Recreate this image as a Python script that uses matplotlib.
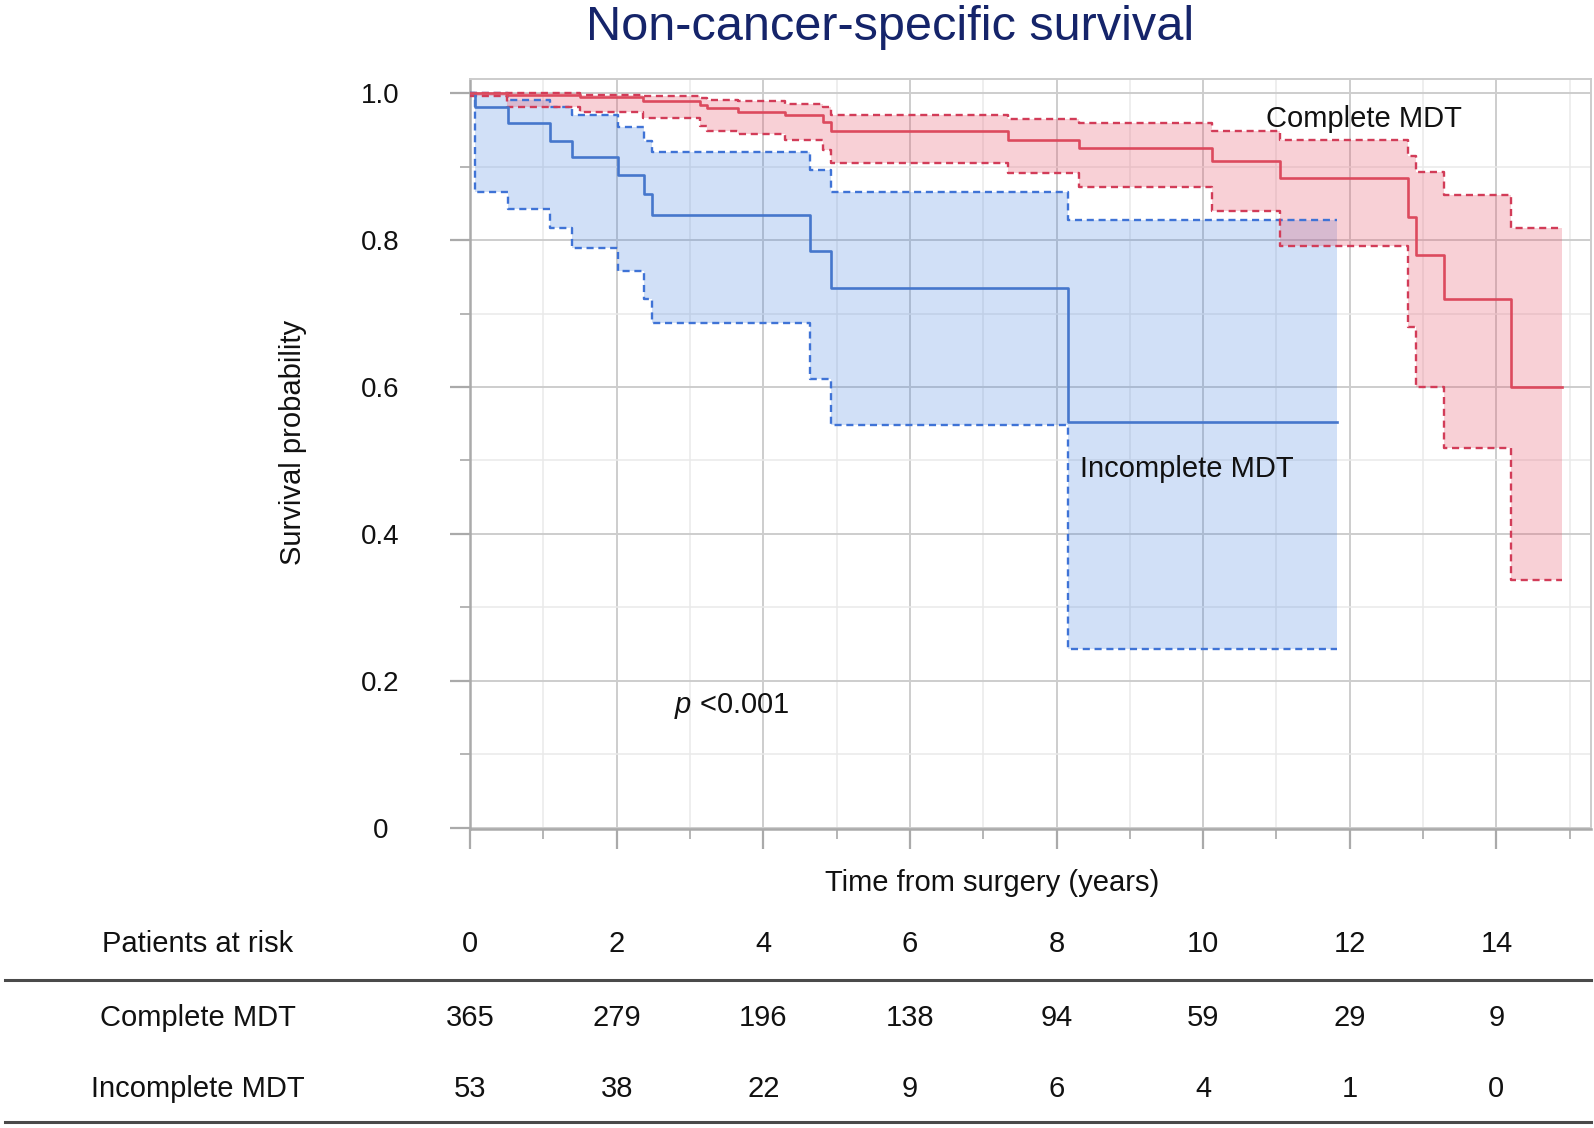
import matplotlib
matplotlib.use("Agg")
import matplotlib.pyplot as plt
from matplotlib.ticker import MultipleLocator, FixedLocator, FixedFormatter
from matplotlib.lines import Line2D
import matplotlib.transforms as mtransforms

plt.rcParams['font.family'] = ['Liberation Sans', 'DejaVu Sans']
plt.rcParams['mathtext.fontset'] = 'custom'
plt.rcParams['mathtext.rm'] = 'Liberation Sans'
plt.rcParams['mathtext.it'] = 'Liberation Sans:italic'

# ---------------- data ----------------
# Incomplete MDT (blue)
inc_time = [0, 0.07, 0.52, 1.09, 1.39, 2.02, 2.37, 2.48, 4.64, 4.93, 8.16, 11.82]
inc_surv = [1.0, 0.981, 0.959, 0.935, 0.913, 0.889, 0.863, 0.834, 0.785, 0.735, 0.553, 0.553]
inc_upper = [1.0, 1.0, 0.991, 0.981, 0.970, 0.954, 0.935, 0.920, 0.895, 0.866, 0.828, 0.828]
inc_lower = [1.0, 0.866, 0.843, 0.816, 0.790, 0.758, 0.720, 0.687, 0.611, 0.548, 0.243, 0.243]

# Complete MDT (red)
com_time = [0, 0.5, 1.5, 2.36, 3.14, 3.23, 3.66, 4.30, 4.82, 4.93, 7.34, 8.30,
            10.12, 11.05, 12.80, 12.90, 13.28, 14.20, 14.90]
com_surv = [1.0, 0.998, 0.995, 0.989, 0.984, 0.980, 0.975, 0.970, 0.961, 0.948, 0.936, 0.926,
            0.908, 0.884, 0.832, 0.780, 0.720, 0.600, 0.600]
com_upper = [1.0, 1.0, 0.998, 0.997, 0.994, 0.991, 0.989, 0.986, 0.982, 0.971, 0.965, 0.959,
             0.949, 0.937, 0.915, 0.893, 0.861, 0.816, 0.816]
com_lower = [0.996, 0.982, 0.975, 0.966, 0.955, 0.948, 0.945, 0.936, 0.923, 0.905, 0.891, 0.872,
             0.840, 0.792, 0.682, 0.600, 0.517, 0.337, 0.337]

risk_times = [0, 2, 4, 6, 8, 10, 12, 14]
risk_complete = [365, 279, 196, 138, 94, 59, 29, 9]
risk_incomplete = [53, 38, 22, 9, 6, 4, 1, 0]
ytick_vals = [0, 0.2, 0.4, 0.6, 0.8, 1.0]
ytick_labels = ["0", "0.2", "0.4", "0.6", "0.8", "1.0"]

# ---------------- figure ----------------
W, H = 1594, 1128
fig = plt.figure(figsize=(W / 100, H / 100), dpi=100)
ax = fig.add_axes([470 / W, 1 - 829 / H, (1591 - 470) / W, (829 - 79) / H])

red_line = '#dc4a5e'
red_fill = '#e8596e'
blue_line = '#4677cc'
blue_fill = '#4a86e0'
txt = '#111111'

ax.fill_between(inc_time, inc_lower, inc_upper, step='post', color=blue_fill, alpha=0.25, lw=0, zorder=2)
ax.fill_between(com_time, com_lower, com_upper, step='post', color=red_fill, alpha=0.28, lw=0, zorder=3)

dash = (0, (3.0, 2.0))
ax.step(inc_time, inc_upper, where='post', color='#3f73d6', lw=1.7, ls=dash, zorder=4)
ax.step(inc_time, inc_lower, where='post', color='#3f73d6', lw=1.7, ls=dash, zorder=4)
ax.step(com_time, com_upper, where='post', color='#d23c58', lw=1.7, ls=dash, zorder=5)
ax.step(com_time, com_lower, where='post', color='#d23c58', lw=1.7, ls=dash, zorder=5)
ax.step(inc_time, inc_surv, where='post', color=blue_line, lw=1.9, zorder=6)
ax.step(com_time, com_surv, where='post', color=red_line, lw=1.9, zorder=7)

ax.set_xlim(0, 15.29)
ax.set_ylim(-0.002, 1.0195)

ax.xaxis.set_major_locator(MultipleLocator(2))
ax.xaxis.set_minor_locator(MultipleLocator(1))
ax.yaxis.set_major_locator(FixedLocator(ytick_vals))
ax.yaxis.set_major_formatter(FixedFormatter(ytick_labels))
ax.yaxis.set_minor_locator(MultipleLocator(0.1))

ax.set_axisbelow(True)
ax.grid(which='major', color='#cdcdcd', lw=1.4, zorder=0)
ax.grid(which='minor', color='#e9e9e9', lw=1.1, zorder=0)

ax.tick_params(axis='both', which='major', length=14.5, width=1.6, color='#aaaaaa', direction='out')
ax.tick_params(axis='both', which='minor', length=7, width=1.4, color='#b5b5b5', direction='out')
ax.tick_params(axis='x', labelbottom=False)
ax.tick_params(axis='y', which='major', labelsize=20, labelcolor=txt, pad=50)
for lbl in ax.get_yticklabels():
    lbl.set_horizontalalignment('center')

for side in ['top', 'right']:
    ax.spines[side].set_color('#cccccc')
    ax.spines[side].set_linewidth(1.4)
for side in ['left', 'bottom']:
    ax.spines[side].set_color('#aaaaaa')
    ax.spines[side].set_linewidth(1.8)

# annotations inside plot
ax.text(10.86, 0.965, "Complete MDT", fontsize=21, color=txt, ha='left', va='center', zorder=8)
ax.text(8.32, 0.488, "Incomplete MDT", fontsize=21, color=txt, ha='left', va='center', zorder=8)
ax.text(2.78, 0.166, r"$p$ <0.001", fontsize=21, color=txt, ha='left', va='center', zorder=8)

# titles & axis labels
fig.text(890 / W, 1 - 28 / H, "Non-cancer-specific survival", fontsize=35, color='#15246a',
         ha='center', va='center')
fig.text(992 / W, 1 - 883 / H, "Time from surgery (years)", fontsize=21, color=txt,
         ha='center', va='center')
fig.text(293 / W, 1 - 442 / H, "Survival probability", fontsize=21, color=txt,
         ha='center', va='center', rotation=90)

# risk table
trans = mtransforms.blended_transform_factory(ax.transData, fig.transFigure)
y_head = 1 - 944 / H
y_r1 = 1 - 1018 / H
y_r2 = 1 - 1089 / H
fig.text(198 / W, y_head, "Patients at risk", fontsize=21, color=txt, ha='center', va='center')
fig.text(198 / W, y_r1, "Complete MDT", fontsize=21, color=txt, ha='center', va='center')
fig.text(198 / W, y_r2, "Incomplete MDT", fontsize=21, color=txt, ha='center', va='center')
for t, a, b in zip(risk_times, risk_complete, risk_incomplete):
    fig.text(t, y_head, str(t), fontsize=21, color=txt, ha='center', va='center', transform=trans)
    fig.text(t, y_r1, str(a), fontsize=21, color=txt, ha='center', va='center', transform=trans)
    fig.text(t, y_r2, str(b), fontsize=21, color=txt, ha='center', va='center', transform=trans)

for yl in [980, 1122]:
    fig.add_artist(Line2D([5 / W, 1591 / W], [1 - yl / H] * 2, transform=fig.transFigure,
                          color='#4a4a4a', lw=2.2))

fig.savefig("out.png", dpi=100)
